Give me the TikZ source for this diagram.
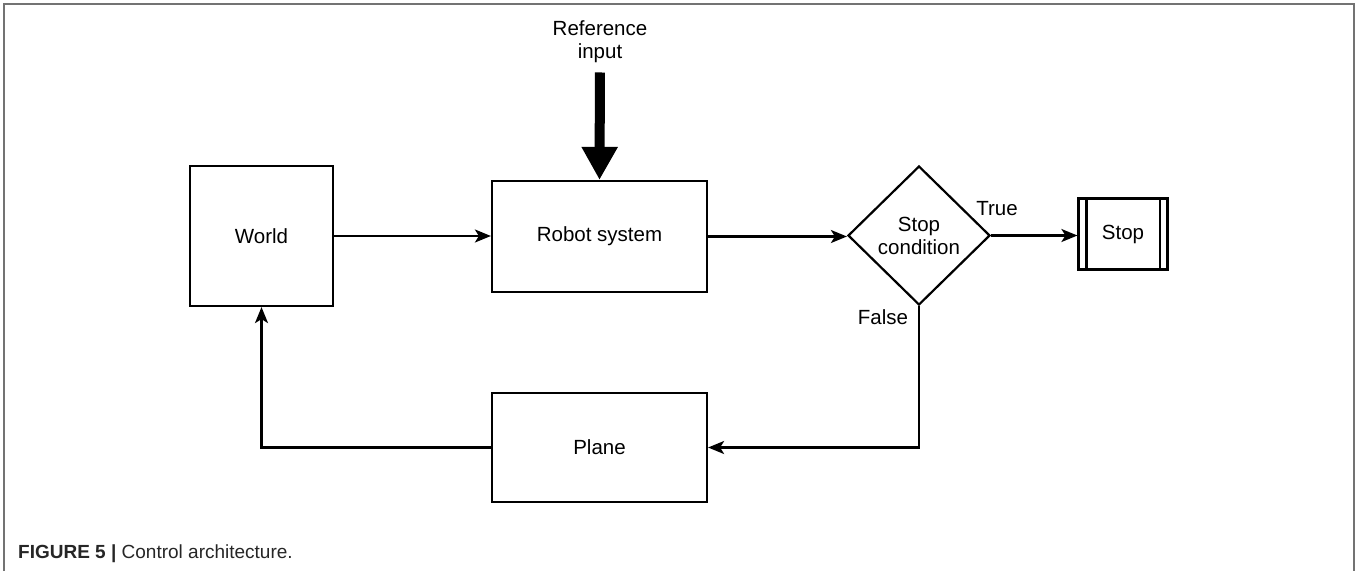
\documentclass[tikz,border=0pt]{standalone}
\usepackage{fontspec}
\setmainfont{Liberation Sans}
\usetikzlibrary{arrows.meta,shapes.geometric}
\begin{document}
\begin{tikzpicture}[x=1pt,y=-1pt,
  box/.style={draw, line width=2.2pt, inner sep=0pt, font=\fontsize{20.5}{23}\selectfont, align=center},
  conn/.style={line width=2.2pt, -{Stealth[length=16pt,width=13pt,inset=4pt]}},
  lbl/.style={font=\fontsize{20.5}{23}\selectfont, inner sep=0pt}]
\useasboundingbox (0,0) rectangle (1359,571);
\draw[black!55, line width=1.5pt] (4,571) -- (4,4) -- (1354,4) -- (1354,571);
\node[box, minimum width=143pt, minimum height=140pt] (world) at (261.5,236) {World};
\node[box, minimum width=215pt, minimum height=111pt] (robot) at (599.5,236.5) {Robot system};
\node[box, shape=diamond, aspect=1, minimum width=142pt, minimum height=139pt] (cond) at (919,235.5) {Stop\\condition};
\node[box, minimum width=89pt, minimum height=71pt] (stop) at (1123,234) {Stop};
\draw[line width=2.2pt] ([xshift=9pt]stop.north west) -- ([xshift=9pt]stop.south west);
\draw[line width=2.2pt] ([xshift=-9pt]stop.north east) -- ([xshift=-9pt]stop.south east);
\node[box, minimum width=215pt, minimum height=109pt] (plane) at (599.5,447.5) {Plane};
\node[lbl, align=center, anchor=north] (ref) at (600,20) {Reference\\input};
\draw[line width=10pt, shorten <=10pt, -{Triangle[length=33pt,width=34pt]}] (ref.south) -- (robot.north);
\draw[conn] (world.east) -- (world.east -| robot.west);
\draw[conn] (robot.east) -- (robot.east -| cond.west);
\draw[conn] (cond.east) -- (cond.east -| stop.west);
\draw[conn] (cond.south) |- (plane.east);
\draw[conn] (plane.west) -| (world.south);
\node[lbl] (true) at (997,209) {True};
\node[lbl] (false) at (883,317) {False};
\node[anchor=base west, inner sep=0pt, font=\fontsize{19}{22}\selectfont, text=black!85] (cap) at (18,558) {\textbf{FIGURE 5 |} Control architecture.};
\end{tikzpicture}
\end{document}
